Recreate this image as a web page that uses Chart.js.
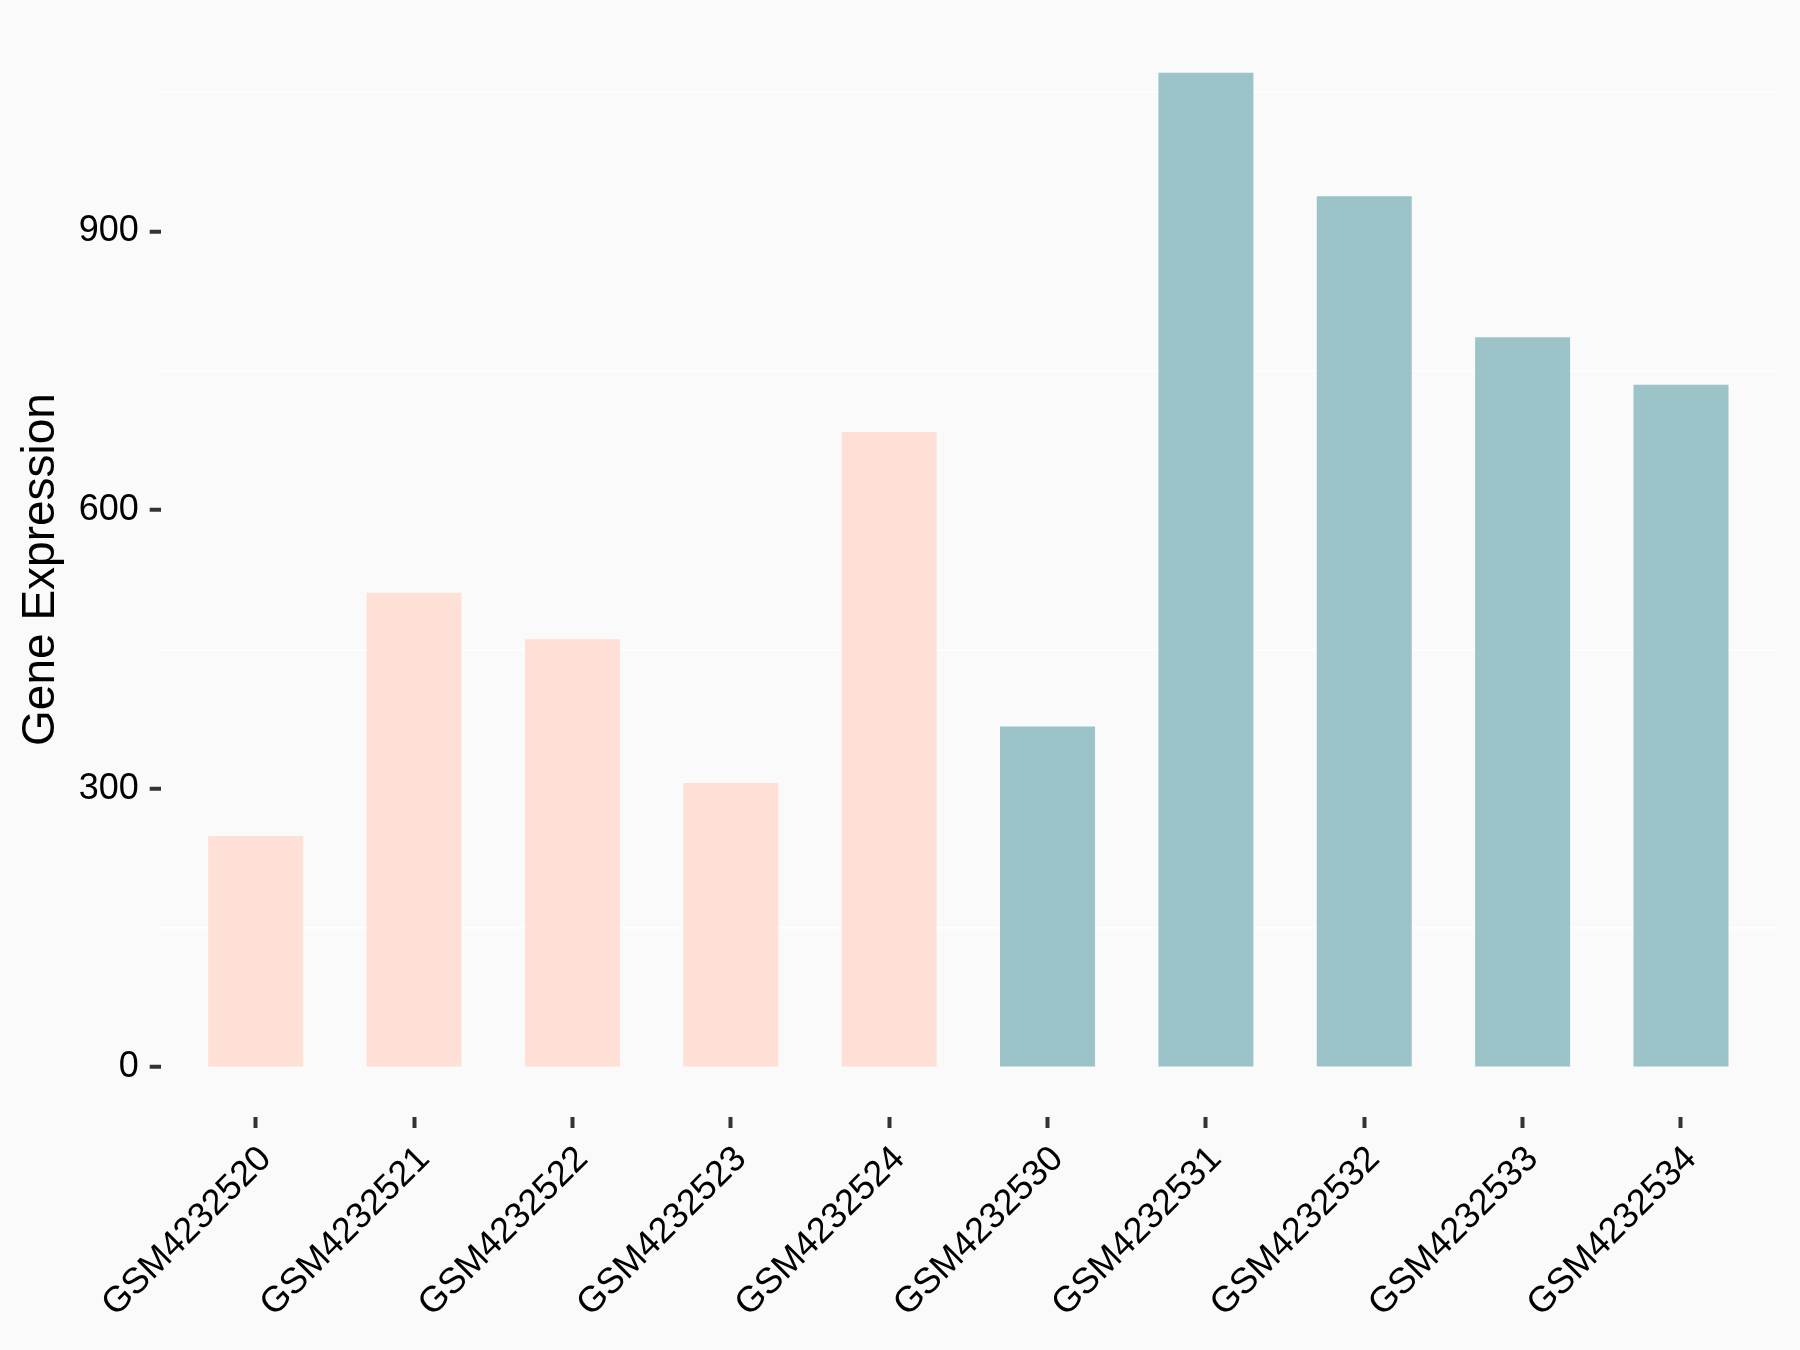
<!DOCTYPE html>
<html>
<head>
<meta charset="utf-8">
<script src="https://cdn.jsdelivr.net/npm/chart.js@4/dist/chart.umd.min.js"></script>
<style>
  body { margin: 0; background: #FAFAFA; }
  #wrap { width: 1800px; height: 1350px; }
</style>
</head>
<body>
<div id="wrap"><canvas id="chart" width="1800" height="1350"></canvas></div>
<script>
const samples = ['GSM4232520', 'GSM4232521', 'GSM4232522', 'GSM4232523', 'GSM4232524',
                 'GSM4232530', 'GSM4232531', 'GSM4232532', 'GSM4232533', 'GSM4232534'];
const expression = [249, 511, 461, 306, 684, 367, 1071, 938, 786, 735];
const group = [0, 0, 0, 0, 0, 1, 1, 1, 1, 1];
const groupColors = ['#FFE0D6', '#9CC4C8'];
const yTicks = [0, 150, 300, 450, 600, 750, 900, 1050];

const font = "'Liberation Sans', Arial, sans-serif";

let points = [];
for (let i = 0; i < samples.length; i++)
    points.push({ x: i, y: expression[i] });

const data = {
    datasets: [{
        data: points,
        backgroundColor: group.map(g => groupColors[g]),
        borderWidth: 0,
        barPercentage: 0.6,
        categoryPercentage: 1
    }]
};

const config = {
    type: 'bar',
    data: data,
    options: {
        responsive: false,
        animation: false,
        layout: { padding: { top: 22, right: 24, left: 0, bottom: 0 } },
        plugins: { legend: { display: false }, tooltip: { enabled: false } },
        scales: {
            x: {
                type: 'linear',
                offset: false,
                min: -0.6,
                max: samples.length - 0.4,
                afterBuildTicks: s => { s.ticks = samples.map((_, i) => ({ value: i })); },
                afterFit: s => { s.height = 233; s.paddingLeft = 0; s.paddingRight = 0; },
                border: { display: false },
                grid: {
                    offset: false,
                    drawOnChartArea: false,
                    drawTicks: true,
                    tickLength: 11,
                    tickWidth: 4,
                    tickColor: '#333333'
                },
                ticks: {
                    autoSkip: false,
                    minRotation: 45,
                    maxRotation: 45,
                    padding: 10,
                    labelOffset: 10,
                    color: '#000000',
                    font: { family: font, size: 36 },
                    callback: v => samples[v]
                }
            },
            y: {
                min: -53.6,
                max: 1125.6,
                afterBuildTicks: s => { s.ticks = yTicks.map(v => ({ value: v })); },
                afterFit: s => { s.width = 160.7; s.paddingTop = 0; s.paddingBottom = 0; },
                border: { display: false },
                grid: {
                    color: ctx => ctx.tick.value % 300 === 0 ? 'rgba(0,0,0,0)' : '#FFFFFF',
                    lineWidth: 1.5,
                    tickLength: 11,
                    tickWidth: 4,
                    tickColor: ctx => ctx.tick.value % 300 === 0 ? '#333333' : 'rgba(0,0,0,0)'
                },
                ticks: {
                    padding: 11,
                    color: '#000000',
                    font: { family: font, size: 36 },
                    callback: v => v % 300 === 0 ? String(v) : ''
                },
                title: {
                    display: true,
                    text: 'Gene Expression',
                    color: '#000000',
                    padding: { top: 14, bottom: 0 },
                    font: { family: font, size: 46 }
                }
            }
        }
    }
};

let ctx = document.getElementById('chart').getContext('2d');
new Chart(ctx, config);
</script>
</body>
</html>
